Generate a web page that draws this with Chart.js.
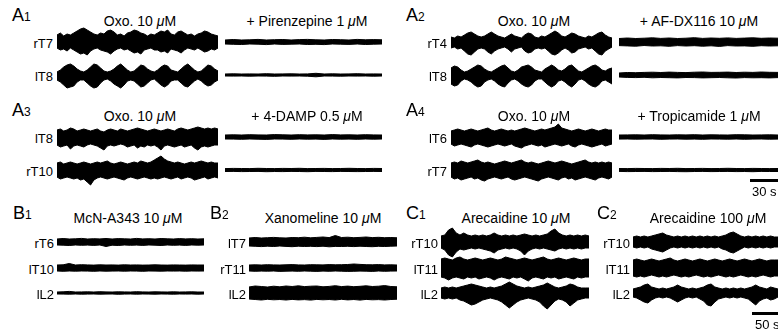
<!DOCTYPE html>
<html><head><meta charset="utf-8">
<script src="https://cdn.jsdelivr.net/npm/chart.js@4/dist/chart.umd.min.js"></script>
<style>
html,body{margin:0;padding:0;background:#fff;}
#fig{position:relative;width:778px;height:331px;overflow:hidden;background:#fff;font-family:"Liberation Sans",Arial,sans-serif;color:#000;}
.t{position:absolute;white-space:nowrap;line-height:1;}
.c{transform:translate(-50%,-50%);}
.r{transform:translate(-100%,-50%);}
.l{transform:translate(0,-50%);}
.tr{position:absolute;}
.bar{position:absolute;background:#000;}
</style></head>
<body><div id="fig"></div>
<script>
// ---- data: envelope amplitudes (arbitrary units) ----
// A1 Oxo / Pirenzepine
const A1_oxo_rT7_hi = [7,9,6,8,7, 9,11,13,14,12,10,8, 7,9, 8,11,12,10,7, 8,6,9, 10,12,11,9,8, 6,8,7, 9,11,10,12,8, 7,10,11,9,7, 8,6,8, 9,11,10,8,7,6];
const A1_oxo_rT7_lo = [-6,-8,-7,-9,-6, -8,-10,-12,-11,-13,-9,-7, -6,-8, -9,-10,-12,-9,-7, -6,-8,-7, -9,-11,-10,-12,-8, -7,-6,-8, -8,-10,-9,-11,-7, -8,-9,-11,-8,-6, -7,-8,-6, -8,-10,-9,-7,-8,-6];
const A1_oxo_lT8_hi = [3,5,8,10,11,9,6,4, 3,5,8,11,10,7,4, 3,4,6,9,11,8,5,3, 4,7,10,9,6,4,3, 5,8,10,9,5,4, 3,6,9,11,8,5,3, 4,7,10,9,6,4];
const A1_oxo_lT8_lo = [-5,-7,-10,-13,-12,-11,-7,-5, -5,-8,-11,-13,-12,-8,-5, -4,-6,-9,-11,-13,-10,-6,-5, -6,-9,-12,-11,-8,-5,-4, -7,-10,-12,-10,-6,-5, -5,-8,-11,-12,-9,-6,-4, -6,-9,-11,-10,-7,-5];
const A1_drug_rT7_hi = [2,2.5,2,2.2,2.6,2,2.3,2.5,2,2.4,2.6,2.2,2,2.5,2.3,2,2.6,2.2,2.4,2.2];
const A1_drug_rT7_lo = [-2,-2.3,-2.5,-2,-2.2,-2.6,-2,-2.4,-2.2,-2,-2.5,-2.3,-2.6,-2,-2.2,-2.4,-2,-2.5,-2.2,-2];
const A1_drug_lT8_hi = [1,1.2,1,1.1,1,1.3,1,1.1,1.2,1,1.1,1.7,1,1.2,1,1.1,1.3,1,1.1,1];
const A1_drug_lT8_lo = [-1,-1.1,-1,-1.2,-1,-1.1,-1.3,-1,-1.1,-1,-1.2,-1.8,-1,-1.1,-1.2,-1,-1.1,-1,-1.2,-1];
// A2 Oxo / AF-DX116
const A2_oxo_rT4_hi = [5,4,6,5, 7,9,10,8,6, 5,6, 8,10,8,6, 5,4, 6,8,6, 5,4, 7,9,8,5, 4,6,5, 7,9,11,9,6, 5,7, 9,8,6, 5,4,6,5, 7,9,10,7,5,4];
const A2_oxo_rT4_lo = [-6,-5,-7,-6, -9,-12,-13,-10,-7, -6,-7, -10,-12,-9,-7, -6,-5, -7,-10,-7, -6,-5, -9,-11,-10,-7, -6,-7,-6, -9,-12,-13,-11,-8, -6,-8, -11,-10,-7, -6,-5,-7,-6, -9,-12,-13,-9,-7,-5];
const A2_oxo_lT8_hi = [7,9,8,5,3,4, 6,8,10,9,6,4,3, 5,7,9,10,7,4,3, 5,8,9,10,8,5,4,3, 6,8,10,8,5,4, 6,9,10,7,4,3, 5,7,9,10,8,5,4,6,7];
const A2_oxo_lT8_lo = [-9,-11,-10,-6,-4,-5, -7,-10,-12,-11,-7,-5,-4, -6,-9,-11,-12,-8,-5,-4, -6,-9,-11,-12,-10,-6,-4,-4, -7,-10,-12,-10,-6,-5, -7,-10,-12,-9,-5,-4, -6,-9,-11,-12,-10,-6,-5,-7,-9];
const A2_drug_rT4_hi = [3.5,4,3.5,3.8,4.2,3.6,4,3.5,3.8,4.3,3.6,4,3.7,4.1,3.6,3.9,4.2,3.7,4,3.8];
const A2_drug_rT4_lo = [-3.6,-3.9,-4.2,-3.5,-4,-3.8,-4.3,-3.6,-4,-3.7,-4.2,-3.8,-4.4,-3.6,-4,-3.9,-4.3,-3.7,-4,-3.8];
const A2_drug_lT8_hi = [2,2.5,2.3,2.6,2.8,2.5,2.9,2.6,2.4,2.8,3,2.6,2.7,2.9,2.5,2.8,2.6,3,2.7,2.6];
const A2_drug_lT8_lo = [-2,-2.4,-2.6,-2.3,-2.8,-2.5,-2.7,-2.9,-2.5,-2.6,-2.9,-2.7,-2.5,-2.8,-3,-2.6,-2.8,-2.7,-2.9,-2.6];
// A3 Oxo / 4-DAMP
const A3_oxo_lT8_hi = [7,8,6,7,9,8,6,7,8,7,6,7,8,6,5,7,8,7,6,8,7,6,7,8,9,8,7,6,7,8,7,6,7,8,7,6,8,9,8,7,8,9,10,9,8,9,8,9,8];
const A3_oxo_lT8_lo = [-8,-10,-9,-8,-12,-9,-8,-9,-10,-8,-7,-8,-9,-11,-13,-9,-8,-9,-8,-7,-8,-10,-9,-8,-11,-9,-10,-8,-9,-8,-10,-13,-9,-8,-9,-10,-9,-8,-10,-9,-8,-11,-13,-10,-9,-10,-9,-8,-8];
const A3_oxo_rT10_hi = [7,8,6,7,8,7,6,7,8,7,6,7,8,7,8,9,7,6,7,8,7,6,7,8,7,9,8,7,8,10,12,14,11,9,8,7,8,7,6,7,8,7,8,9,8,7,8,7,7];
const A3_oxo_rT10_lo = [-7,-9,-8,-7,-8,-9,-8,-10,-9,-12,-15,-10,-8,-7,-8,-9,-8,-7,-8,-9,-10,-8,-7,-8,-9,-8,-7,-8,-9,-8,-9,-8,-7,-8,-9,-8,-7,-9,-8,-7,-8,-10,-9,-8,-7,-9,-8,-7,-8];
const A3_drug_lT8_hi = [2,2.2,2,2.3,2.1,2,2.4,2.2,2,2.3,2.1,2.2,2,2.4,2.1,2.2,2,2.3,2.1,2];
const A3_drug_lT8_lo = [-2,-2.1,-2.3,-2,-2.2,-2.4,-2,-2.1,-2.3,-2,-2.2,-2.1,-2.4,-2,-2.2,-2.1,-2.3,-2,-2.2,-2];
const A3_drug_rT10_hi = [1.4,1.6,1.5,1.4,1.7,1.5,1.4,1.6,1.5,1.7,1.4,1.5,1.6,1.4,1.5,1.7,1.5,1.4,1.6,1.5];
const A3_drug_rT10_lo = [-1.5,-1.4,-1.6,-1.5,-1.4,-1.7,-1.5,-1.6,-1.4,-1.5,-1.7,-1.4,-1.5,-1.6,-1.4,-1.5,-1.6,-1.5,-1.4,-1.5];
// A4 Oxo / Tropicamide
const A4_oxo_lT6_hi = [6,7,8,7,6,7,8,7,6,7,8,9,7,6,7,8,7,6,7,6,7,8,9,8,7,6,7,8,7,8,9,10,13,9,8,7,6,7,8,7,6,7,8,7,6,7,8,7,7];
const A4_oxo_lT6_lo = [-7,-9,-8,-7,-8,-9,-10,-8,-7,-8,-9,-10,-9,-8,-7,-8,-9,-8,-7,-9,-10,-11,-9,-8,-7,-8,-9,-8,-10,-9,-8,-7,-8,-9,-8,-7,-9,-10,-8,-7,-8,-9,-10,-9,-8,-7,-9,-8,-7];
const A4_oxo_rT7_hi = [7,8,7,9,8,7,8,9,10,8,7,8,7,6,7,8,9,8,7,8,9,10,8,7,8,7,6,7,8,9,8,7,8,9,8,7,6,7,8,9,10,8,7,8,7,8,7,8,7];
const A4_oxo_rT7_lo = [-7,-9,-8,-10,-9,-8,-7,-9,-8,-10,-11,-9,-8,-7,-8,-9,-8,-7,-9,-10,-9,-8,-7,-8,-9,-10,-11,-9,-8,-7,-8,-9,-10,-8,-7,-9,-8,-10,-9,-8,-7,-8,-9,-10,-8,-7,-8,-9,-7];
const A4_drug_lT6_hi = [2,2.1,2.2,2,2.3,2.1,2,2.2,2.1,2.3,2,2.2,2.1,2,2.3,2.2,2,2.1,2.2,2];
const A4_drug_lT6_lo = [-2.1,-2,-2.2,-2.1,-2,-2.3,-2.1,-2,-2.2,-2.1,-2.3,-2,-2.1,-2.2,-2,-2.3,-2.1,-2,-2.2,-2.1];
const A4_drug_rT7_hi = [1.5,1.4,1.6,1.5,1.4,1.6,1.5,1.7,1.4,1.5,1.6,1.4,1.5,1.7,1.5,1.4,1.6,1.5,1.4,1.5];
const A4_drug_rT7_lo = [-1.4,-1.6,-1.5,-1.4,-1.6,-1.5,-1.4,-1.6,-1.7,-1.5,-1.4,-1.6,-1.5,-1.4,-1.6,-1.5,-1.7,-1.4,-1.5,-1.5];
// B1 McN-A343
const B1_rT6_hi = [3,3.5,3,3.2,3.6,3,3.3,3.1,3.5,3,3.4,3.2,3,3.6,3.1,3.3,3,3.5,3.2,3,3.4,3.1,3.3,3,3.2];
const B1_rT6_lo = [-3,-3.2,-3.5,-3,-3.3,-3.1,-3.4,-3,-4.5,-3.2,-3.5,-3,-3.3,-3.1,-3.4,-3,-3.2,-3.5,-3,-3.3,-3.1,-3.4,-3,-3.2,-3];
const B1_lT10_hi = [3,3.2,4.5,3,3.3,3.1,2.9,3.2,3,3.1,2.9,3.2,3,3.1,2.9,3,3.2,3,2.9,3.1,3,2.9,3.1,3,3];
const B1_lT10_lo = [-3,-3.3,-3,-3.2,-3,-3.1,-3.3,-3,-3.2,-3.1,-3,-3.2,-3,-3.1,-3.3,-3,-3.1,-3.2,-3,-3.1,-3,-3.2,-3,-3.1,-3];
const B1_lL2_hi = [1,1.2,1.6,1,1.1,1.2,1,1.3,1.1,1,1.2,1.1,1,1.3,1.1,1,1.2,1.1,1,1.2,1,1.1,1.2,1,1];
const B1_lL2_lo = [-1,-1.1,-1.2,-1,-1.2,-1.1,-1,-1.2,-1.1,-1,-1.3,-1.1,-1,-1.2,-1,-1.1,-1.2,-1,-1.1,-1.2,-1,-1.1,-1,-1.2,-1];
// B2 Xanomeline
const B2_lT7_hi = [4,4.5,4,4.3,4.6,4.2,4,4.5,4.3,4.8,4.2,4.6,5,4.4,6.5,4.5,4.8,4.3,4.6,5,4.4,4.7,4.3,4.5,4.2];
const B2_lT7_lo = [-4,-4.3,-4.6,-4.2,-4.5,-4,-4.4,-4.7,-4.2,-4.5,-4.3,-4.6,-4.2,-4.8,-4.4,-4.5,-4.3,-4.6,-4.2,-4.5,-4.7,-4.3,-4.5,-4.2,-4];
const B2_rT11_hi = [3,3.2,3,3.3,3.1,3,3.2,3.4,3.1,3,3.3,3.2,3.1,3.4,3.2,3.3,3.5,4,3.6,3.3,3.2,3.4,3.1,3.2,3];
const B2_rT11_lo = [-3,-3.3,-3.1,-3.2,-3,-3.4,-3.2,-3.1,-3.3,-3,-3.2,-3.4,-3.1,-3.3,-3,-3.2,-3.4,-3.3,-3.1,-3.2,-3.4,-3,-3.3,-3.1,-3];
const B2_lL2_hi = [6,7,6.5,6,6.8,6.2,7,6.5,7.2,6.4,6.8,7,6.2,6.6,7.3,6.4,6.9,6.3,6.7,7.2,6.5,6.8,7.4,6.5,6.2];
const B2_lL2_lo = [-6,-6.5,-7,-6.3,-6.8,-6.5,-7,-6.4,-6.9,-6.6,-7.1,-6.4,-6.8,-6.5,-7,-6.3,-6.9,-6.5,-7.1,-6.4,-6.8,-6.6,-7,-6.5,-6.2];
// C1 Arecaidine 10 uM
const C1_rT10_hi = [6,7,12,14,9,7,9,7,6,7,6,7,6,7,9,7,6,7,6,7,6,7,8,7,6,7,6,7,8,11,13,9,7,6,7,6,7,6,7,6];
const C1_rT10_lo = [-6,-8,-13,-15,-10,-7,-8,-7,-6,-7,-6,-7,-8,-9,-11,-8,-7,-6,-7,-6,-7,-9,-13,-9,-7,-6,-7,-6,-7,-8,-9,-7,-6,-7,-6,-7,-6,-7,-6,-6];
const C1_lT11_hi = [9,10,9,8,10,11,9,8,9,10,9,8,9,10,9,8,9,11,10,9,8,9,10,9,8,9,10,11,9,8,9,10,9,8,9,10,9,8,9,9];
const C1_lT11_lo = [-9,-10,-12,-10,-9,-10,-11,-9,-10,-9,-11,-10,-9,-10,-12,-10,-9,-10,-11,-9,-10,-9,-11,-13,-10,-9,-10,-11,-9,-10,-9,-11,-10,-9,-10,-11,-9,-10,-9,-9];
const C1_lL2_hi = [5,6,5,6,5,6,7,8,9,8,7,6,5,6,5,6,7,9,11,9,7,6,5,6,5,6,7,8,10,8,6,5,6,7,9,8,6,5,5,5];
const C1_lL2_lo = [-5,-6,-5,-6,-5,-7,-8,-10,-12,-11,-9,-7,-6,-5,-6,-7,-9,-12,-15,-12,-9,-7,-6,-5,-6,-7,-9,-13,-16,-12,-8,-6,-7,-9,-13,-10,-7,-6,-5,-5];
// C2 Arecaidine 100 uM
const C2_rT10_hi = [5,6,5,6,5,6,7,8,9,7,6,5,6,5,6,5,6,5,6,5,6,5,6,5,6,7,9,10,8,6,5,6,5,6,5,6,5,6,5,5];
const C2_rT10_lo = [-5,-6,-5,-6,-5,-7,-8,-9,-10,-8,-6,-5,-6,-5,-6,-5,-6,-5,-6,-5,-6,-5,-6,-5,-7,-8,-10,-11,-9,-7,-5,-6,-5,-6,-5,-6,-5,-6,-5,-5];
const C2_lT11_hi = [8,9,8,7,8,9,8,7,8,9,10,8,7,8,9,8,7,8,9,8,7,8,9,8,7,8,9,8,7,8,9,8,7,8,9,8,7,8,8,8];
const C2_lT11_lo = [-8,-9,-8,-9,-8,-7,-8,-9,-8,-9,-8,-7,-8,-9,-8,-9,-8,-7,-8,-9,-8,-9,-8,-7,-8,-9,-8,-9,-8,-7,-8,-9,-8,-9,-8,-7,-8,-9,-8,-8];
const C2_lL2_hi = [4,5,6,8,9,6,5,4,5,4,5,6,8,6,5,4,5,4,5,6,8,9,6,5,4,5,4,5,4,5,4,5,6,8,6,5,4,6,5,4];
const C2_lL2_lo = [-4,-5,-7,-9,-10,-7,-5,-4,-5,-4,-5,-7,-9,-7,-5,-4,-5,-4,-6,-8,-12,-13,-9,-6,-5,-4,-5,-4,-5,-4,-5,-6,-9,-12,-8,-6,-5,-7,-6,-4];

// ---- text ----
const panelLetters = ['A','A','A','A','B','B','C','C'];
const panelNumbers = ['1','2','3','4','1','2','1','2'];
const oxoTitle = 'Oxo. 10 <i>μ</i>M';
const drugTitles = ['+ Pirenzepine 1 <i>μ</i>M','+ AF-DX116 10 <i>μ</i>M','+ 4-DAMP 0.5 <i>μ</i>M','+ Tropicamide 1 <i>μ</i>M'];
const bcTitles = ['McN-A343 10 <i>μ</i>M','Xanomeline 10 <i>μ</i>M','Arecaidine 10 <i>μ</i>M','Arecaidine 100 <i>μ</i>M'];
const aLabels = [['rT7','lT8'],['rT4','lT8'],['lT8','rT10'],['lT6','rT7']];
const bcLabels = [['rT6','lT10','lL2'],['lT7','rT11','lL2'],['rT10','lT11','lL2'],['rT10','lT11','lL2']];
const scaleLabels = ['30 s','50 s'];

// ---- layout ----
const fig = document.getElementById('fig');
function txt(html, x, y, size, cls){
  const s = document.createElement('span');
  s.className = 't ' + cls;
  s.style.left = x + 'px'; s.style.top = y + 'px'; s.style.fontSize = size + 'px';
  s.innerHTML = html; fig.appendChild(s); return s;
}
function bar(x, y, w, h){
  const d = document.createElement('div'); d.className = 'bar';
  d.style.left = x+'px'; d.style.top = y+'px'; d.style.width = w+'px'; d.style.height = h+'px';
  fig.appendChild(d);
}
const H = 40, R = 20;
function trace(x0, x1, yc, hi, lo){
  const w = x1 - x0;
  const cv = document.createElement('canvas');
  cv.className = 'tr'; cv.width = w; cv.height = H;
  cv.style.left = x0 + 'px'; cv.style.top = (yc - H/2) + 'px';
  cv.style.width = w + 'px'; cv.style.height = H + 'px';
  fig.appendChild(cv);
  new Chart(cv, {
    type: 'line',
    data: { labels: hi.map((_, i) => i),
      datasets: [
        { data: hi, borderColor: '#000', backgroundColor: '#000', borderWidth: 1, pointRadius: 0, tension: 0, fill: '+1' },
        { data: lo, borderColor: '#000', backgroundColor: '#000', borderWidth: 1, pointRadius: 0, tension: 0, fill: false }
      ]},
    options: { responsive: false, animation: false, events: [], devicePixelRatio: 1,
      layout: { padding: 0 },
      plugins: { legend: { display: false }, tooltip: { enabled: false } },
      scales: { x: { display: false, offset: false }, y: { display: false, min: -R, max: R } } }
  });
}
function panelLabel(i, x, y){
  txt(panelLetters[i] + '<span style="font-size:12px">' + panelNumbers[i] + '</span>', x, y, 18, 'l');
}

// A panels
const aData = [
  [[A1_oxo_rT7_hi,A1_oxo_rT7_lo],[A1_oxo_lT8_hi,A1_oxo_lT8_lo],[A1_drug_rT7_hi,A1_drug_rT7_lo],[A1_drug_lT8_hi,A1_drug_lT8_lo]],
  [[A2_oxo_rT4_hi,A2_oxo_rT4_lo],[A2_oxo_lT8_hi,A2_oxo_lT8_lo],[A2_drug_rT4_hi,A2_drug_rT4_lo],[A2_drug_lT8_hi,A2_drug_lT8_lo]],
  [[A3_oxo_lT8_hi,A3_oxo_lT8_lo],[A3_oxo_rT10_hi,A3_oxo_rT10_lo],[A3_drug_lT8_hi,A3_drug_lT8_lo],[A3_drug_rT10_hi,A3_drug_rT10_lo]],
  [[A4_oxo_lT6_hi,A4_oxo_lT6_lo],[A4_oxo_rT7_hi,A4_oxo_rT7_lo],[A4_drug_lT6_hi,A4_drug_lT6_lo],[A4_drug_rT7_hi,A4_drug_rT7_lo]]
];
for (let p = 0; p < 4; p++){
  const ox = (p % 2) ? 394 : 0;
  const oy = (p >= 2) ? 95 : 0;
  panelLabel(p, 12 + ox, 15 + oy);
  txt(oxoTitle, 140 + ox, 21 + oy, 14, 'c');
  txt(drugTitles[p], 307 + ox - (p%2 ? 2 : 0), 21 + oy, 14, 'c');
  const ys = [42 + oy, 75 + oy];
  for (let k = 0; k < 2; k++){
    txt(aLabels[p][k], 53 + ox, ys[k] + 1, 13, 'r');
    trace(57 + ox, 218 + ox, ys[k], aData[p][k][0], aData[p][k][1]);
    trace(225 + ox, (p%2) ? 778 : 382, ys[k], aData[p][2+k][0], aData[p][2+k][1]);
  }
}
// 30 s scale bar
bar(750, 179, 28, 3);
txt(scaleLabels[0], 752, 191, 13, 'l');

// B / C panels
const bcData = [
  [[B1_rT6_hi,B1_rT6_lo],[B1_lT10_hi,B1_lT10_lo],[B1_lL2_hi,B1_lL2_lo]],
  [[B2_lT7_hi,B2_lT7_lo],[B2_rT11_hi,B2_rT11_lo],[B2_lL2_hi,B2_lL2_lo]],
  [[C1_rT10_hi,C1_rT10_lo],[C1_lT11_hi,C1_lT11_lo],[C1_lL2_hi,C1_lL2_lo]],
  [[C2_rT10_hi,C2_rT10_lo],[C2_lT11_hi,C2_lT11_lo],[C2_lL2_hi,C2_lL2_lo]]
];
const bcLabelX = [13, 210, 406, 597];
const bcTitleX = [128, 323, 516, 708];
const bcTraceX = [[57,204],[249,397],[441,589],[633,778]];
const bcRows = [242, 268, 293];
for (let p = 0; p < 4; p++){
  panelLabel(4 + p, bcLabelX[p], 213);
  txt(bcTitles[p], bcTitleX[p], 218, 14, 'c');
  for (let k = 0; k < 3; k++){
    txt(bcLabels[p][k], bcTraceX[p][0] - 3, bcRows[k] + 1, 13, 'r');
    trace(bcTraceX[p][0], bcTraceX[p][1], bcRows[k], bcData[p][k][0], bcData[p][k][1]);
  }
}
bar(752, 312, 26, 3);
txt(scaleLabels[1], 755, 324, 13, 'l');
</script></body></html>
